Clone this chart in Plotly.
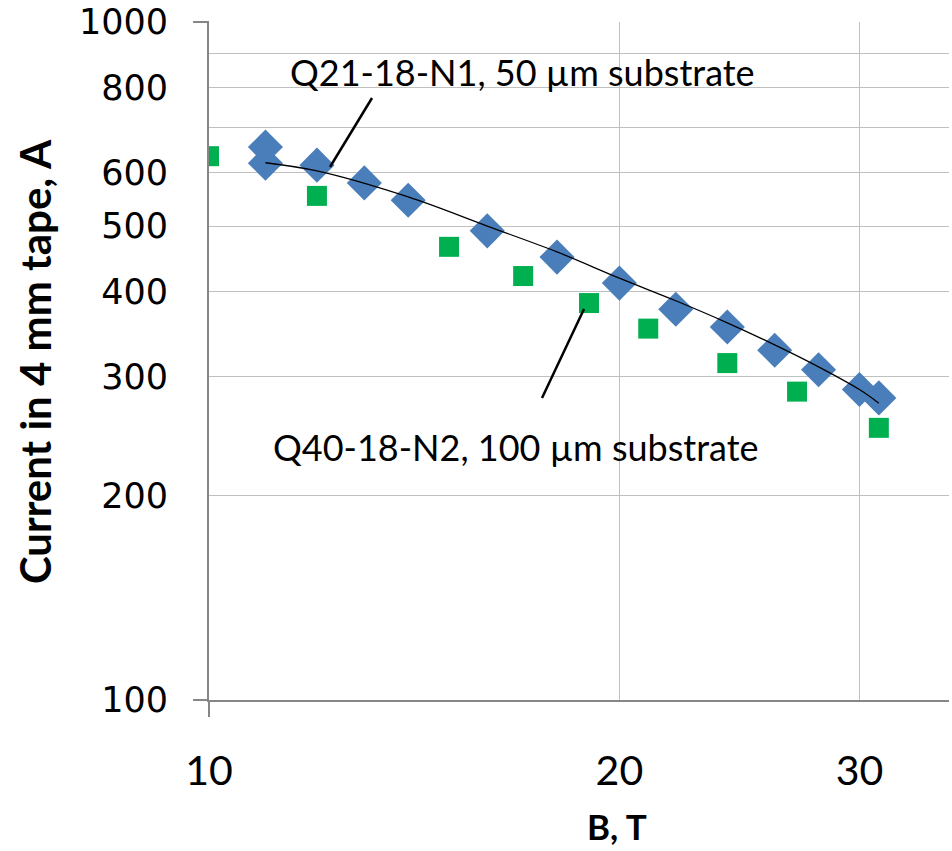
import plotly.graph_objects as go
import numpy as np

# Q21-18-N1, 50 um substrate (blue diamonds)
b_n1 = [11, 11, 12, 13, 14, 16, 18, 20, 22, 24, 26, 28, 30, 31]
i_n1 = [654, 619, 615, 579, 546, 492, 450, 412, 377, 355, 328, 307, 287, 279]

# Q40-18-N2, 100 um substrate (green squares)
b_n2 = [10, 12, 15, 17, 19, 21, 24, 27, 31]
i_n2 = [634, 554, 466, 422, 385, 353, 314, 285, 252]

# trend line through N1 data
b_fit = [11, 12, 14, 16, 18, 20, 22, 24, 26, 28, 30, 31]
i_fit = [620, 603, 552, 500, 458, 419, 388, 360, 334, 310, 287, 274]

y_ticks = [100, 200, 300, 400, 500, 600, 700, 800, 900, 1000]
y_text = ["100", "200", "300", "400", "500", "600", "", "800", "", "1000"]
x_ticks = [10, 20, 30]
x_text = ["10", "20", "30"]

fig = go.Figure()
fig.add_trace(go.Scatter(x=b_n1, y=i_n1, mode="markers",
                         marker=dict(symbol="diamond", size=27, color="#4A7EBB", line=dict(width=0)),
                         showlegend=False))
fig.add_trace(go.Scatter(x=b_n2, y=i_n2, mode="markers",
                         marker=dict(symbol="square", size=20, color="#00B050", line=dict(width=0)),
                         showlegend=False))
fig.add_trace(go.Scatter(x=b_fit, y=i_fit, mode="lines", line=dict(color="black", width=1.3, shape="spline"),
                         showlegend=False, hoverinfo="skip"))

grid = "#C0C0C0"
axc = "#868686"
fig.update_layout(
    width=952, height=851,
    margin=dict(l=209, r=3, t=22, b=151),
    paper_bgcolor="white", plot_bgcolor="white",
    xaxis=dict(type="log", range=[1, np.log10(34.9)], tickvals=x_ticks, ticktext=x_text,
               showgrid=True, gridcolor=grid, gridwidth=1, zeroline=False,
               showline=True, linecolor=axc, linewidth=2, ticks="",
               tickfont=dict(family="Lato", size=41, color="black"), ticklabelstandoff=34),
    yaxis=dict(type="log", range=[2, 3], tickvals=y_ticks, ticktext=y_text,
               showgrid=True, gridcolor=grid, gridwidth=1, zeroline=False,
               showline=True, linecolor=axc, linewidth=2, ticks="",
               tickfont=dict(family="DejaVu Sans", size=35, color="black"), ticklabelstandoff=32),
    shapes=[
        dict(type="line", xref="paper", yref="paper", x0=-0.0215, x1=0, y0=0, y1=0, line=dict(color=axc, width=2)),
        dict(type="line", xref="paper", yref="paper", x0=-0.0215, x1=0, y0=1, y1=1, line=dict(color=axc, width=2)),
        dict(type="line", xref="paper", yref="paper", x0=0, x1=0, y0=0, y1=-0.025, line=dict(color=axc, width=2)),
        dict(type="line", xref="paper", yref="paper", x0=0.2203, y0=0.8879, x1=0.1635, y1=0.7861,
             line=dict(color="black", width=2.5)),
        dict(type="line", xref="paper", yref="paper", x0=0.5068, y0=0.5767, x1=0.45, y1=0.4454,
             line=dict(color="black", width=2.5)),
    ],
    annotations=[
        dict(text="Q21-18-N1, 50 µm substrate", xref="paper", yref="paper", x=0.423, y=0.926,
             showarrow=False, font=dict(family="Lato", size=36, color="black"), xanchor="center", yanchor="middle"),
        dict(text="Q40-18-N2, 100 µm substrate", xref="paper", yref="paper", x=0.415, y=0.373,
             showarrow=False, font=dict(family="Lato", size=36, color="black"), xanchor="center", yanchor="middle"),
        dict(text="<b>Current in 4 mm tape, A</b>", xref="paper", yref="paper", x=-0.235, y=0.4985,
             showarrow=False, textangle=-90, font=dict(family="Lato", size=42, color="black"),
             xanchor="center", yanchor="middle"),
        dict(text="<b>B, T</b>", xref="paper", yref="paper", x=0.551, y=-0.1858,
             showarrow=False, font=dict(family="Lato", size=35, color="black"),
             xanchor="center", yanchor="middle"),
    ],
)
fig.write_html("out.html")
